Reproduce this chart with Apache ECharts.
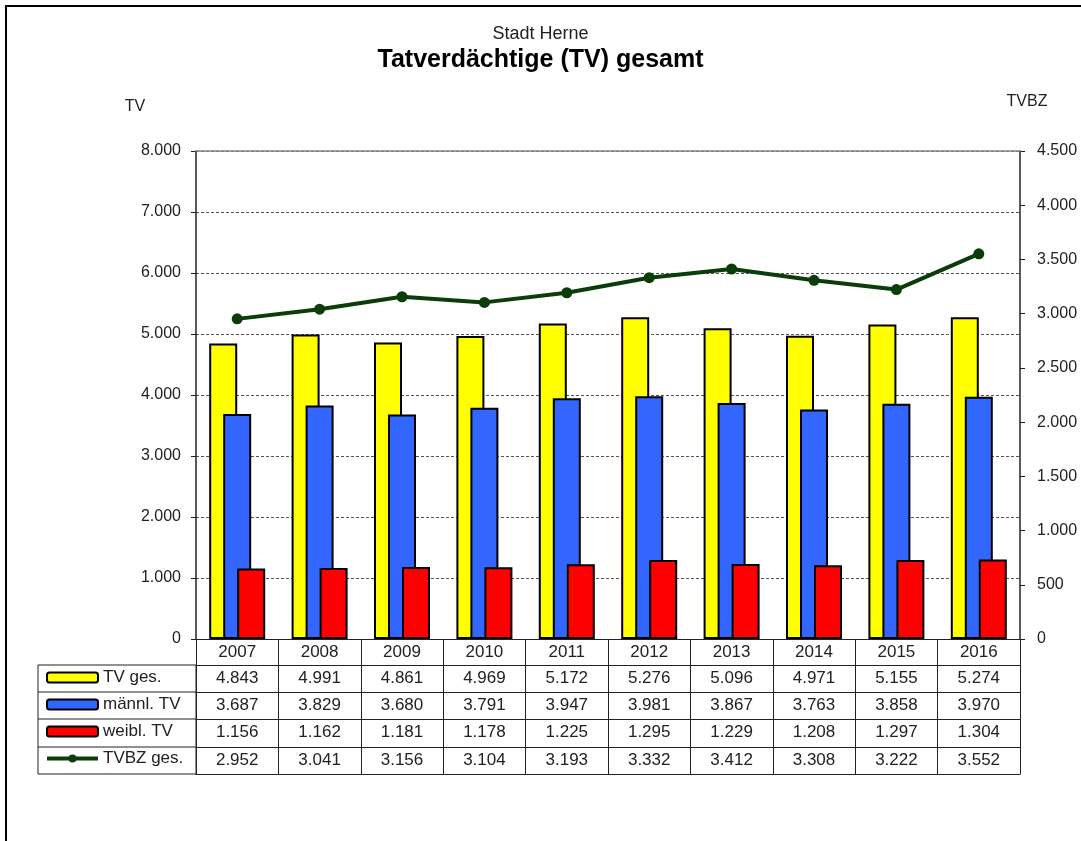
<!DOCTYPE html>
<html>
<head>
<meta charset="utf-8">
<title>Tatverdächtige (TV) gesamt</title>
<script src="https://cdn.jsdelivr.net/npm/echarts@6/dist/echarts.min.js"></script>
<style>
  html, body { margin: 0; padding: 0; background: #fff; }
  #main { width: 1081px; height: 841px; }
</style>
</head>
<body>
<div id="main"></div>
<script>
// Daten
var jahre = ["2007", "2008", "2009", "2010", "2011", "2012", "2013", "2014", "2015", "2016"];
var tvGes = [4843, 4991, 4861, 4969, 5172, 5276, 5096, 4971, 5155, 5274];
var tvMaennl = [3687, 3829, 3680, 3791, 3947, 3981, 3867, 3763, 3858, 3970];
var tvWeibl = [1156, 1162, 1181, 1178, 1225, 1295, 1229, 1208, 1297, 1304];
var tvbzGes = [2952, 3041, 3156, 3104, 3193, 3332, 3412, 3308, 3222, 3552];

// 4843 -> "4.843"
function fmt(v) {
  return String(v).replace(/\B(?=(\d{3})+(?!\d))/g, ".");
}

var fontFam = "Liberation Sans, Arial, sans-serif";
var lineCol = "#222";
var gruen = "#0b3d0b";

// eine Tabellenzeile als zusätzliche x-Achse unter dem Diagramm
function tableRow(values, offset, tickLen) {
  return {
    type: "category",
    data: jahre,
    position: "bottom",
    offset: offset,
    axisLine: { show: true, onZero: false, lineStyle: { color: lineCol, width: 1 } },
    axisTick: { show: tickLen > 0, interval: 0, length: tickLen, lineStyle: { color: lineCol, width: 1 } },
    axisLabel: {
      show: !!values,
      interval: 0,
      margin: 5,
      fontSize: 17,
      fontFamily: fontFam,
      color: "#222",
      formatter: function (val, idx) {
        if (!values) return "";
        return typeof values[idx] === "number" ? fmt(values[idx]) : values[idx];
      }
    },
    splitLine: { show: false }
  };
}

var chart = echarts.init(document.getElementById("main"));

var option = {
  animation: false,
  backgroundColor: "#fff",
  textStyle: { fontFamily: fontFam },
  title: [
    {
      text: "Stadt Herne",
      left: "center",
      top: 20,
      textStyle: { fontSize: 18, fontWeight: "normal", color: "#222", fontFamily: fontFam }
    },
    {
      text: "Tatverdächtige (TV) gesamt",
      left: "center",
      top: 43,
      textStyle: { fontSize: 25, fontWeight: "bold", color: "#000", fontFamily: fontFam }
    }
  ],
  legend: {
    orient: "vertical",
    left: 45,
    top: 669,
    padding: 0,
    itemGap: 10,
    itemWidth: 51,
    itemHeight: 10,
    textStyle: { fontSize: 17, color: "#222", lineHeight: 17, fontFamily: fontFam },
    data: [
      { name: "TV ges.", itemStyle: { borderWidth: 2 } },
      { name: "männl. TV", itemStyle: { borderWidth: 2 } },
      { name: "weibl. TV", itemStyle: { borderWidth: 2 } },
      { name: "TVBZ ges.", lineStyle: { width: 4, color: gruen } }
    ]
  },
  grid: {
    left: 196,
    right: 61,
    top: 151,
    bottom: 202,
    show: false
  },
  xAxis: [
    tableRow(jahre, 0, 26),
    tableRow(tvGes, 26, 27),
    tableRow(tvMaennl, 53, 27),
    tableRow(tvWeibl, 80, 28),
    tableRow(tvbzGes, 108, 27),
    tableRow(null, 135, 0),
    // obere Begrenzung der Zeichenfläche
    {
      type: "category",
      data: jahre,
      position: "top",
      z: 3,
      axisLine: { show: true, onZero: false, lineStyle: { color: "#888", width: 1.5 } },
      axisTick: { show: false },
      axisLabel: { show: false },
      splitLine: { show: false }
    }
  ],
  yAxis: [
    {
      type: "value",
      min: 0,
      max: 8000,
      interval: 1000,
      name: "TV",
      nameLocation: "end",
      nameGap: 36,
      nameTextStyle: { fontSize: 16, color: "#222", padding: [0, 122, 0, 0] },
      axisLine: { show: true, lineStyle: { color: "#222", width: 1.5 } },
      axisTick: { show: true, length: 5, lineStyle: { color: "#222" } },
      axisLabel: { fontSize: 16, color: "#222", margin: 15, formatter: fmt },
      splitLine: { show: true, lineStyle: { color: "#555", type: [3, 2], width: 1 } }
    },
    {
      type: "value",
      min: 0,
      max: 4500,
      interval: 500,
      name: "TVBZ",
      nameLocation: "end",
      nameGap: 41,
      nameTextStyle: { fontSize: 16, color: "#222", padding: [0, 0, 0, 14] },
      axisLine: { show: true, lineStyle: { color: "#222", width: 1.5 } },
      axisTick: { show: true, length: 5, lineStyle: { color: "#222" } },
      axisLabel: { fontSize: 16, color: "#222", margin: 17, formatter: fmt },
      splitLine: { show: false }
    }
  ],
  series: [
    {
      name: "TV ges.",
      type: "bar",
      data: tvGes,
      barWidth: 28,
      barGap: "-50%",
      itemStyle: { color: "#ffff00", borderColor: "#000", borderWidth: 2 }
    },
    {
      name: "männl. TV",
      type: "bar",
      data: tvMaennl,
      barWidth: 28,
      barGap: "-50%",
      itemStyle: { color: "#3366ff", borderColor: "#000", borderWidth: 2 }
    },
    {
      name: "weibl. TV",
      type: "bar",
      data: tvWeibl,
      barWidth: 28,
      barGap: "-50%",
      itemStyle: { color: "#ff0000", borderColor: "#000", borderWidth: 2 }
    },
    {
      name: "TVBZ ges.",
      type: "line",
      yAxisIndex: 1,
      data: tvbzGes,
      symbol: "circle",
      symbolSize: 11,
      itemStyle: { color: gruen },
      lineStyle: { color: gruen, width: 4 },
      z: 5
    }
  ],
  graphic: [
    // Rahmen
    {
      type: "rect",
      shape: { x: 6, y: 6, width: 1200, height: 1000 },
      style: { fill: null, stroke: "#000", lineWidth: 2 },
      silent: true
    },
    // Legendenspalte der Tabelle
    {
      type: "rect",
      shape: { x: 38, y: 665, width: 158, height: 109 },
      style: { fill: null, stroke: lineCol, lineWidth: 1 },
      silent: true
    },
    { type: "line", shape: { x1: 38, y1: 692, x2: 196, y2: 692 }, style: { stroke: lineCol, lineWidth: 1 } },
    { type: "line", shape: { x1: 38, y1: 719, x2: 196, y2: 719 }, style: { stroke: lineCol, lineWidth: 1 } },
    { type: "line", shape: { x1: 38, y1: 747, x2: 196, y2: 747 }, style: { stroke: lineCol, lineWidth: 1 } }
  ]
};

chart.setOption(option);
</script>
</body>
</html>
